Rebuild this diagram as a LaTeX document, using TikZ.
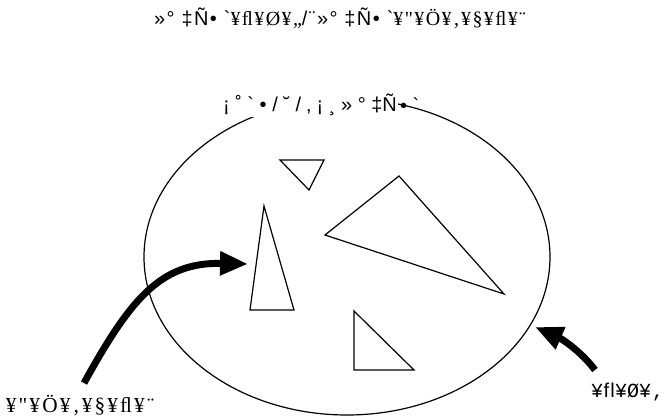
\documentclass[tikz,border=0pt]{standalone}
\usepackage{fontspec}
\setmainfont{Liberation Sans}[Ligatures=TeXOff]
\newfontfamily\titlesans{Liberation Sans}[Ligatures=TeXOff, LetterSpace=7]
\newfontfamily\titleserif{Liberation Serif}[Ligatures=TeXOff, LetterSpace=7]
\newfontfamily\yenserif{Liberation Serif}[Ligatures=TeXOff, LetterSpace=10]
\newfontfamily\yenmono{Liberation Mono}[Ligatures=TeXOff]
\usetikzlibrary{positioning,arrows.meta,shapes.geometric}

\tikzset{
  caption/.style={font=\fontsize{15}{17}\selectfont, inner sep=1pt},
  shard/.style={draw, line width=0.9pt, line join=miter},
  bigarrow/.style={line width=5.2pt, -{Triangle[length=21pt,width=17pt]}},
}

\begin{document}
\begin{tikzpicture}[x=0.75pt, y=-0.75pt]
  \useasboundingbox (0,0) rectangle (664,418);

  % region and its label
  \node (region) [ellipse, draw, line width=0.9pt, inner sep=0pt,
        minimum width=304.5pt, minimum height=237pt] at (347,257) {};
  \node (regionlabel) [caption, fill=white] at (310,105)
        {¡ ˚ ` • / ˘ / ‚ ¡ ¸ » ° ‡Ñ};
  \node (regionlabelend) [caption, right=0pt of regionlabel] {• `};

  \node (title) [caption, font=\titlesans\fontsize{15}{17}\selectfont] at (340,18)
        {»° ‡Ñ• `{\titleserif ¥ﬂ¥Ø¥„}/¨»° ‡Ñ• `{\titleserif ¥"¥Ö¥‚¥§¥ﬂ¥¨}};

  % shards inside the region
  \draw[shard] (280,160) -- (324,160) -- (309,190) -- cycle;
  \draw[shard] (264,206) -- (294,310) -- (250,310) -- cycle;
  \draw[shard] (399,176) -- (504,294) -- (325,235) -- cycle;
  \draw[shard] (354,311) -- (414,370) -- (354,370) -- cycle;

  % pointers
  \node (inlabel) [inner sep=1pt, font=\yenserif\fontsize{16}{18}\selectfont] at (80,405)
        {¥"¥Ö¥‚¥§¥ﬂ¥¨};
  \node (outlabel) [inner sep=1pt, font=\yenmono\fontsize{15}{17}\selectfont] at (627,392)
        {¥ﬂ¥Ø¥‚};
  \coordinate (intail) at (84,383);
  \coordinate (intip) at (248,264);
  \coordinate (outtail) at (595,370);
  \coordinate (outtip) at (535,327);
  \draw[bigarrow] (intail) .. controls (130,300) and (160,262) .. (intip);
  \draw[bigarrow] (outtail) .. controls (580,350) and (560,338) .. (outtip);
\end{tikzpicture}
\end{document}
